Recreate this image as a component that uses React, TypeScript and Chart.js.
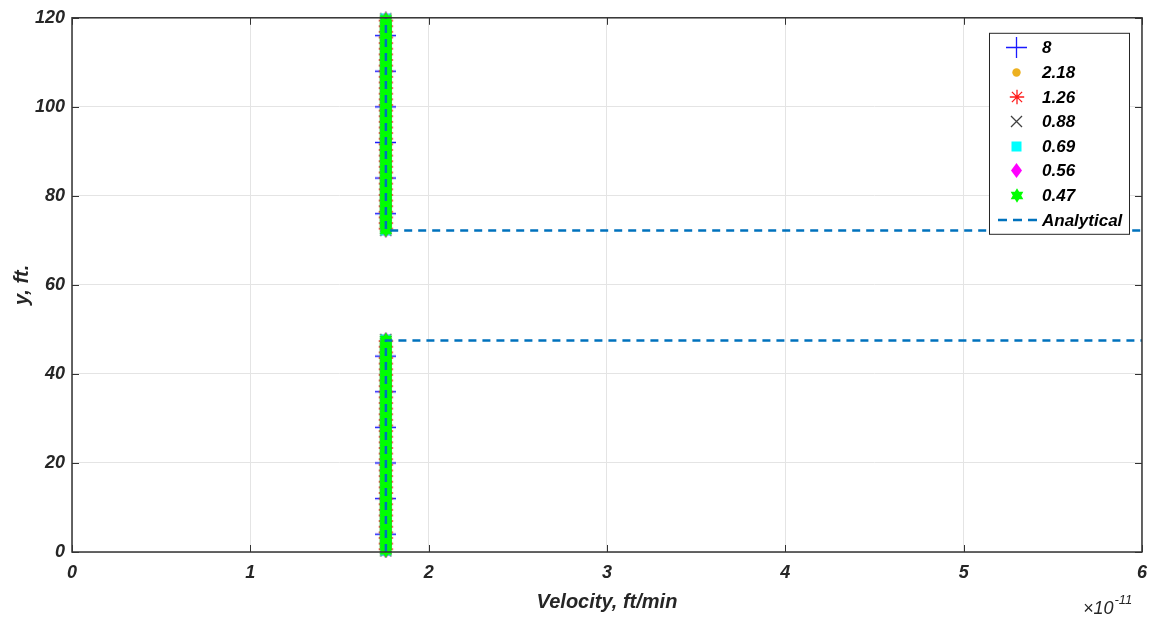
import React, { useEffect, useRef } from 'react';
import { Chart, registerables } from 'chart.js';

Chart.register(...registerables);

// ---------- data ----------
const seriesLabels = ['8', '2.18', '1.26', '0.88', '0.69', '0.56', '0.47'];
const analyticalLabel = 'Analytical';

const layerVelocity = 1.76e-11; // ft/min

const y8 = [4, 12, 20, 28, 36, 44, 76, 84, 92, 100, 108, 116];

const y218 = [
  1.09, 3.27, 5.45, 7.64, 9.82, 12.0, 14.18, 16.36, 18.55, 20.73, 22.91,
  25.09, 27.27, 29.45, 31.64, 33.82, 36.0, 38.18, 40.36, 42.55, 44.73, 46.91,
  73.09, 75.27, 77.45, 79.64, 81.82, 84.0, 86.18, 88.36, 90.55, 92.73, 94.91,
  97.09, 99.27, 101.45, 103.64, 105.82, 108.0, 110.18, 112.36, 114.55, 116.73, 118.91,
];

const y126 = [
  0.63, 1.89, 3.16, 4.42, 5.68, 6.95, 8.21, 9.47, 10.74, 12.0, 13.26, 14.53,
  15.79, 17.05, 18.32, 19.58, 20.84, 22.11, 23.37, 24.63, 25.89, 27.16, 28.42,
  29.68, 30.95, 32.21, 33.47, 34.74, 36.0, 37.26, 38.53, 39.79, 41.05, 42.32,
  43.58, 44.84, 46.11, 47.37,
  72.63, 73.89, 75.16, 76.42, 77.68, 78.95, 80.21, 81.47, 82.74, 84.0, 85.26,
  86.53, 87.79, 89.05, 90.32, 91.58, 92.84, 94.11, 95.37, 96.63, 97.89, 99.16,
  100.42, 101.68, 102.95, 104.21, 105.47, 106.74, 108.0, 109.26, 110.53, 111.79,
  113.05, 114.32, 115.58, 116.84, 118.11, 119.37,
];

// fine grids (0.88 ... 0.47): markers merge into a solid band
const yBand = [
  0.25, 0.75, 1.25, 1.75, 2.25, 2.75, 3.25, 3.75, 4.25, 4.75, 5.25, 5.75,
  6.25, 6.75, 7.25, 7.75, 8.25, 8.75, 9.25, 9.75, 10.25, 10.75, 11.25, 11.75,
  12.25, 12.75, 13.25, 13.75, 14.25, 14.75, 15.25, 15.75, 16.25, 16.75, 17.25, 17.75,
  18.25, 18.75, 19.25, 19.75, 20.25, 20.75, 21.25, 21.75, 22.25, 22.75, 23.25, 23.75,
  24.25, 24.75, 25.25, 25.75, 26.25, 26.75, 27.25, 27.75, 28.25, 28.75, 29.25, 29.75,
  30.25, 30.75, 31.25, 31.75, 32.25, 32.75, 33.25, 33.75, 34.25, 34.75, 35.25, 35.75,
  36.25, 36.75, 37.25, 37.75, 38.25, 38.75, 39.25, 39.75, 40.25, 40.75, 41.25, 41.75,
  42.25, 42.75, 43.25, 43.75, 44.25, 44.75, 45.25, 45.75, 46.25, 46.75, 47.25, 47.75,
  72.25, 72.75, 73.25, 73.75, 74.25, 74.75, 75.25, 75.75, 76.25, 76.75, 77.25, 77.75,
  78.25, 78.75, 79.25, 79.75, 80.25, 80.75, 81.25, 81.75, 82.25, 82.75, 83.25, 83.75,
  84.25, 84.75, 85.25, 85.75, 86.25, 86.75, 87.25, 87.75, 88.25, 88.75, 89.25, 89.75,
  90.25, 90.75, 91.25, 91.75, 92.25, 92.75, 93.25, 93.75, 94.25, 94.75, 95.25, 95.75,
  96.25, 96.75, 97.25, 97.75, 98.25, 98.75, 99.25, 99.75, 100.25, 100.75, 101.25, 101.75,
  102.25, 102.75, 103.25, 103.75, 104.25, 104.75, 105.25, 105.75, 106.25, 106.75, 107.25, 107.75,
  108.25, 108.75, 109.25, 109.75, 110.25, 110.75, 111.25, 111.75, 112.25, 112.75, 113.25, 113.75,
  114.25, 114.75, 115.25, 115.75, 116.25, 116.75, 117.25, 117.75, 118.25, 118.75, 119.25, 119.75,
];

const analyticalX = [1.76e-11, 1.76e-11, 1e-10, 1e-10, 1.76e-11, 1.76e-11];
const analyticalY = [0, 47.5, 47.5, 72.2, 72.2, 120];

const xTickValues = [0, 1, 2, 3, 4, 5, 6]; // x 1e-11
const yTickValues = [0, 20, 40, 60, 80, 100, 120];

// ---------- styling ----------
const FONT = '"Liberation Sans", Arial, Helvetica, sans-serif';
const TEXT = '#262626';

type MarkerKind = 'plus' | 'circle' | 'asterisk' | 'cross' | 'square' | 'diamond' | 'hexagram';

function makeMarker(kind: MarkerKind, color: string): HTMLCanvasElement {
  const c = document.createElement('canvas');
  let w = 16;
  let h = 16;
  if (kind === 'plus') { w = 21; h = 21; }
  if (kind === 'circle') { w = 9; h = 9; }
  if (kind === 'asterisk') { w = 16; h = 16; }
  if (kind === 'cross') { w = 13; h = 13; }
  if (kind === 'square') { w = 11; h = 11; }
  if (kind === 'diamond') { w = 11; h = 15; }
  if (kind === 'hexagram') { w = 14; h = 15; }
  c.width = w;
  c.height = h;
  const ctx = c.getContext('2d')!;
  const cx = w / 2;
  const cy = h / 2;
  ctx.strokeStyle = color;
  ctx.fillStyle = color;
  ctx.lineWidth = 1.3;
  ctx.beginPath();
  if (kind === 'plus') {
    ctx.moveTo(0, cy); ctx.lineTo(w, cy);
    ctx.moveTo(cx, 0); ctx.lineTo(cx, h);
    ctx.stroke();
  } else if (kind === 'circle') {
    ctx.arc(cx, cy, w / 2 - 0.3, 0, Math.PI * 2);
    ctx.fill();
  } else if (kind === 'asterisk') {
    const r = w / 2 - 0.8;
    for (let k = 0; k < 4; k++) {
      const a = (k * Math.PI) / 4;
      ctx.moveTo(cx - r * Math.cos(a), cy - r * Math.sin(a));
      ctx.lineTo(cx + r * Math.cos(a), cy + r * Math.sin(a));
    }
    ctx.stroke();
  } else if (kind === 'cross') {
    ctx.moveTo(1, 1); ctx.lineTo(w - 1, h - 1);
    ctx.moveTo(w - 1, 1); ctx.lineTo(1, h - 1);
    ctx.stroke();
  } else if (kind === 'square') {
    ctx.fillRect(0.5, 0.5, w - 1, h - 1);
  } else if (kind === 'diamond') {
    ctx.moveTo(cx, 0); ctx.lineTo(w, cy); ctx.lineTo(cx, h); ctx.lineTo(0, cy);
    ctx.closePath();
    ctx.fill();
  } else if (kind === 'hexagram') {
    const R = 7.3;
    const r = R / Math.sqrt(3);
    for (let k = 0; k < 12; k++) {
      const a = -Math.PI / 2 + (k * Math.PI) / 6;
      const rr = k % 2 === 0 ? R : r;
      const px = cx + rr * Math.cos(a);
      const py = cy + rr * Math.sin(a);
      if (k === 0) ctx.moveTo(px, py); else ctx.lineTo(px, py);
    }
    ctx.closePath();
    ctx.fill();
  }
  return c;
}

export default function App() {
  const ref = useRef<HTMLCanvasElement | null>(null);

  useEffect(() => {
    if (!ref.current) return;

    const markerDefs: { kind: MarkerKind; color: string; ys: number[] }[] = [
      { kind: 'plus', color: '#1a1aff', ys: y8 },
      { kind: 'circle', color: '#EDB120', ys: y218 },
      { kind: 'asterisk', color: '#ff1a1a', ys: y126 },
      { kind: 'cross', color: '#404040', ys: yBand },
      { kind: 'square', color: '#00ffff', ys: yBand },
      { kind: 'diamond', color: '#ff00ff', ys: yBand },
      { kind: 'hexagram', color: '#00ff00', ys: yBand },
    ];
    const markers = markerDefs.map((m) => makeMarker(m.kind, m.color));

    const markerDatasets = markerDefs.map((m, i) => ({
      label: seriesLabels[i],
      data: m.ys.map((y) => ({ x: layerVelocity, y })),
      pointStyle: markers[i] as any,
      pointRadius: 6,
      showLine: false,
      clip: false,
      order: 7 - i,
    }));

    const analyticalDataset = {
      label: analyticalLabel,
      data: analyticalX.map((x, i) => ({ x, y: analyticalY[i] })),
      showLine: true,
      borderColor: '#0072BD',
      backgroundColor: '#0072BD',
      borderWidth: 2.5,
      borderDash: [8, 6],
      pointRadius: 0,
      fill: false,
      tension: 0,
      order: 0,
    };

    const framePlugin = {
      id: 'frameAndLegend',
      afterDraw(chart: any) {
        const { ctx, chartArea } = chart;
        const { left, right, top, bottom } = chartArea;
        const xs = chart.scales.x;
        const ysc = chart.scales.y;
        ctx.save();
        // box
        ctx.strokeStyle = '#333333';
        ctx.lineWidth = 1.5;
        ctx.strokeRect(left, top, right - left, bottom - top);
        // inner ticks
        ctx.lineWidth = 1;
        ctx.beginPath();
        xTickValues.forEach((v) => {
          const px = Math.round(xs.getPixelForValue(v * 1e-11)) + 0.5;
          ctx.moveTo(px, bottom); ctx.lineTo(px, bottom - 7);
          ctx.moveTo(px, top); ctx.lineTo(px, top + 7);
        });
        yTickValues.forEach((v) => {
          const py = Math.round(ysc.getPixelForValue(v)) + 0.5;
          ctx.moveTo(left, py); ctx.lineTo(left + 7, py);
          ctx.moveTo(right, py); ctx.lineTo(right - 7, py);
        });
        ctx.stroke();

        // exponent label
        ctx.fillStyle = TEXT;
        ctx.textBaseline = 'alphabetic';
        ctx.textAlign = 'left';
        ctx.font = `italic 18px ${FONT}`;
        const base = '\u00d710';
        const ex = right - 59;
        ctx.fillText(base, ex, 614);
        const bw = ctx.measureText(base).width;
        ctx.font = `italic 13px ${FONT}`;
        ctx.fillText('-11', ex + bw + 1, 604);

        // legend
        const lx = right - 153;
        const ly = top + 15;
        const lw = 140;
        const lh = 201;
        ctx.fillStyle = '#ffffff';
        ctx.fillRect(lx, ly, lw, lh);
        ctx.strokeStyle = '#262626';
        ctx.lineWidth = 1;
        ctx.strokeRect(lx + 0.5, ly + 0.5, lw, lh);
        const labels = [...seriesLabels, analyticalLabel];
        ctx.font = `italic bold 17px ${FONT}`;
        ctx.textBaseline = 'middle';
        labels.forEach((lab, i) => {
          const cy = ly + 15 + i * 24.6;
          const mx = lx + 28;
          if (i < markers.length) {
            const m = markers[i];
            ctx.drawImage(m, Math.round(mx - m.width / 2), Math.round(cy - m.height / 2));
          } else {
            ctx.save();
            ctx.strokeStyle = '#0072BD';
            ctx.lineWidth = 2.5;
            ctx.setLineDash([9, 6]);
            ctx.beginPath();
            ctx.moveTo(lx + 9, cy);
            ctx.lineTo(lx + 49, cy);
            ctx.stroke();
            ctx.restore();
          }
          ctx.fillStyle = '#000000';
          ctx.fillText(lab, lx + 53, cy + 1);
        });
        ctx.restore();
      },
    };

    const tickFont = { family: FONT, size: 18, style: 'italic' as const, weight: 'bold' as const };
    const titleFont = { family: FONT, size: 20, style: 'italic' as const, weight: 'bold' as const };

    const chart = new Chart(ref.current, {
      type: 'scatter',
      data: {
        datasets: [analyticalDataset as any, ...markerDatasets.slice().reverse()],
      },
      options: {
        animation: false,
        responsive: false,
        events: [],
        layout: { padding: { left: 0, top: 17, right: 15, bottom: 0 } },
        plugins: {
          legend: { display: false },
          tooltip: { enabled: false },
        },
        scales: {
          x: {
            type: 'linear',
            min: 0,
            max: 6e-11,
            afterFit: (s: any) => { s.height = 70; },
            ticks: {
              stepSize: 1e-11,
              color: TEXT,
              font: tickFont,
              padding: 10,
              maxRotation: 0,
              callback: (v: any) => String(Math.round(Number(v) * 1e11)),
            },
            grid: { color: '#e4e4e4', lineWidth: 1, drawTicks: false },
            border: { display: false },
            title: {
              display: true,
              text: 'Velocity, ft/min',
              color: TEXT,
              font: titleFont,
              padding: { top: 4, bottom: 8 },
            },
          },
          y: {
            type: 'linear',
            min: 0,
            max: 120,
            afterFit: (s: any) => { s.width = 72; },
            ticks: {
              stepSize: 20,
              color: TEXT,
              font: tickFont,
              padding: 7,
            },
            grid: { color: '#e4e4e4', lineWidth: 1, drawTicks: false },
            border: { display: false },
            title: {
              display: true,
              text: 'y, ft.',
              color: TEXT,
              font: titleFont,
              padding: { top: 10, bottom: 4 },
            },
          },
        },
      },
      plugins: [framePlugin],
    });

    return () => chart.destroy();
  }, []);

  return (
    <canvas
      ref={ref}
      width={1157}
      height={622}
      style={{ position: 'absolute', left: 0, top: 0 }}
    />
  );
}
